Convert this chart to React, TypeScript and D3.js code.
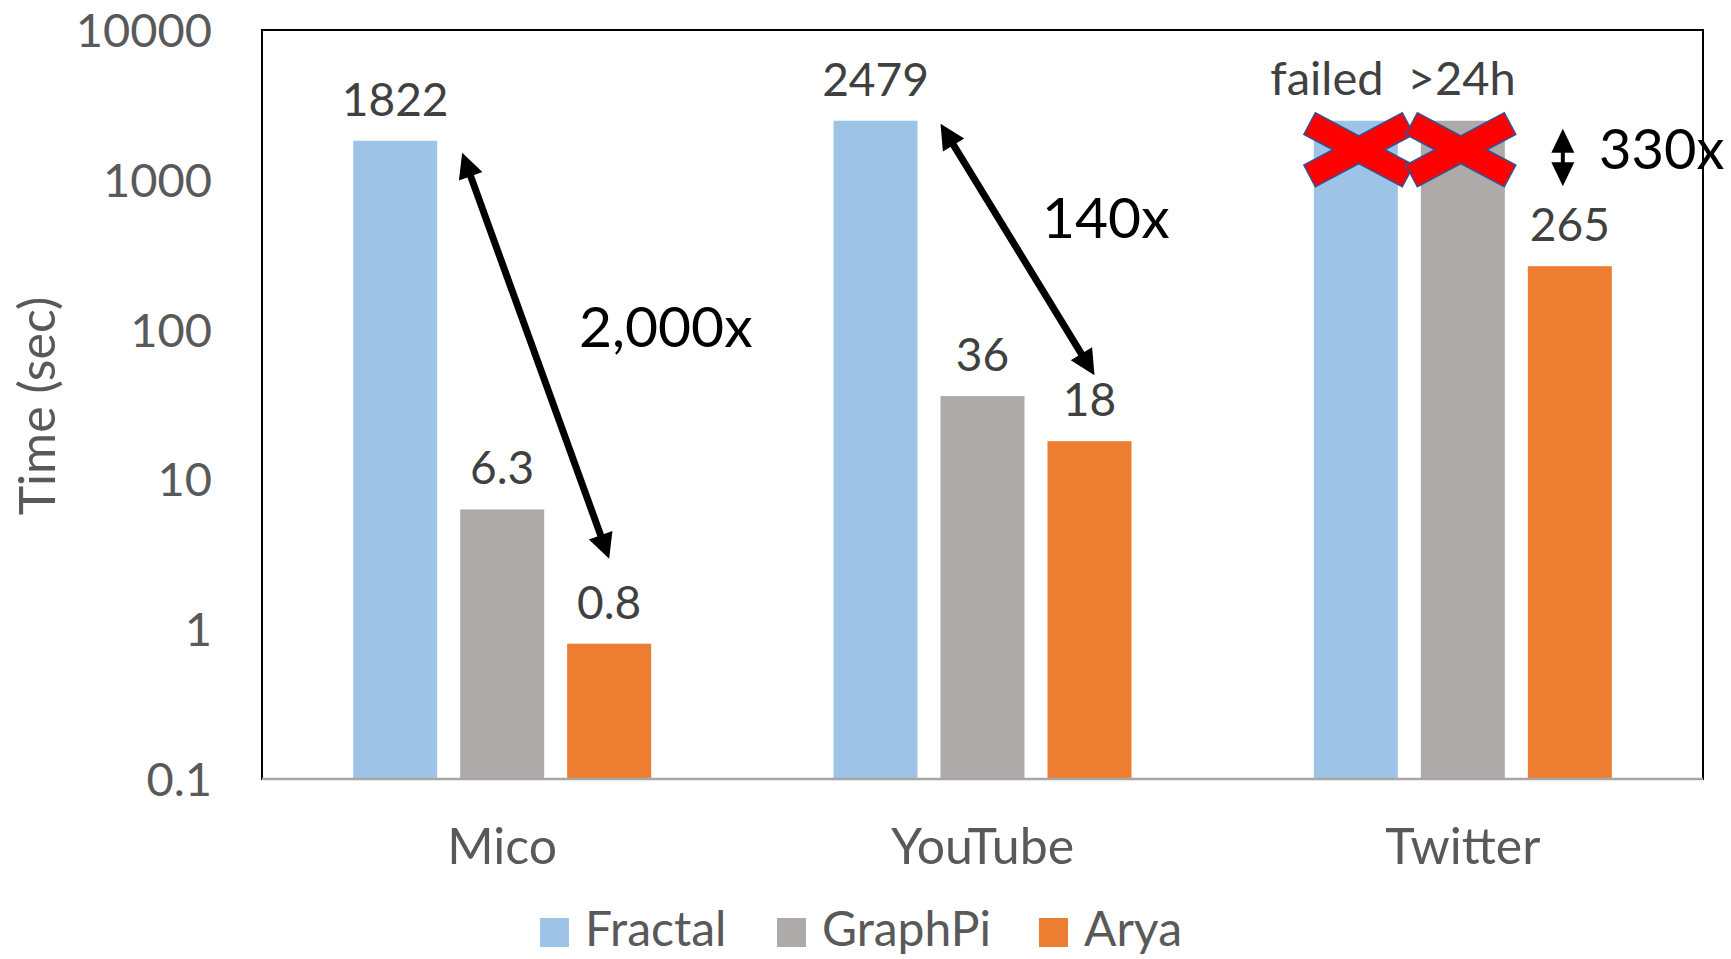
import React from "react";
import * as d3 from "d3";

const categories = ["Mico", "YouTube", "Twitter"];
const seriesNames = ["Fractal", "GraphPi", "Arya"];
const seriesColors = ["#9dc3e6", "#aeaaaa", "#ed7d31"];
const fractalValues = [1822, 2479, 2479];
const graphPiValues = [6.3, 36, 2479];
const aryaValues = [0.8, 18, 265];
const fractalLabels = ["1822", "2479", ""];
const graphPiLabels = ["6.3", "36", ""];
const aryaLabels = ["0.8", "18", "265"];
const fractalFailed = [false, false, true];
const graphPiFailed = [false, false, true];
const yTicks = [0.1, 1, 10, 100, 1000, 10000];
const yTickLabels = ["0.1", "1", "10", "100", "1000", "10000"];

const W = 1731;
const H = 959;
const FONT = "Lato, 'Open Sans', sans-serif";

function arrow(x1: number, y1: number, x2: number, y2: number, headLen: number, headW: number, lw: number, doubleHead = true) {
  const dx = x2 - x1, dy = y2 - y1;
  const len = Math.hypot(dx, dy);
  const ux = dx / len, uy = dy / len;
  const px = -uy, py = ux;
  const tri = (tx: number, ty: number, dirx: number, diry: number) => {
    const bx = tx - dirx * headLen, by = ty - diry * headLen;
    return `M${tx},${ty} L${bx + px * headW / 2},${by + py * headW / 2} L${bx - px * headW / 2},${by - py * headW / 2} Z`;
  };
  const sx = doubleHead ? x1 + ux * (headLen - 2) : x1;
  const sy = doubleHead ? y1 + uy * (headLen - 2) : y1;
  const ex = x2 - ux * (headLen - 2), ey = y2 - uy * (headLen - 2);
  return (
    <g>
      <line x1={sx} y1={sy} x2={ex} y2={ey} stroke="#000" strokeWidth={lw} />
      <path d={tri(x2, y2, ux, uy)} fill="#000" />
      {doubleHead && <path d={tri(x1, y1, -ux, -uy)} fill="#000" />}
    </g>
  );
}

function redX(cx: number, cy: number, key: string) {
  const L = 110, t = 23, ang = 28;
  const rects = [ang, -ang];
  return (
    <g key={key}>
      {rects.map((a, i) => (
        <rect key={"s" + i} x={cx - L / 2} y={cy - t / 2} width={L} height={t}
          transform={`rotate(${a},${cx},${cy})`} fill="#ff0000" stroke="#2f5597" strokeWidth={3} />
      ))}
      {rects.map((a, i) => (
        <rect key={"f" + i} x={cx - L / 2} y={cy - t / 2} width={L} height={t}
          transform={`rotate(${a},${cx},${cy})`} fill="#ff0000" />
      ))}
    </g>
  );
}

export default function App() {
  const left = 262, right = 1703, top = 30, bottom = 779;
  const x0 = d3.scaleBand<string>().domain(categories).range([left, right]);
  const groupW = 298;
  const x1 = d3.scaleBand<string>().domain(seriesNames).range([0, groupW]).paddingInner(23 / 107);
  const y = d3.scaleLog().domain([0.1, 10000]).range([bottom, top]);
  const bw = x1.bandwidth();

  const values = [fractalValues, graphPiValues, aryaValues];
  const labels = [fractalLabels, graphPiLabels, aryaLabels];

  const barX = (ci: number, si: number) =>
    (x0(categories[ci]) as number) + (x0.bandwidth() - groupW) / 2 + (x1(seriesNames[si]) as number);

  const bars: any[] = [];
  const texts: any[] = [];
  const crosses: any[] = [];
  categories.forEach((c, ci) => {
    seriesNames.forEach((s, si) => {
      const v = values[si][ci];
      const bx = barX(ci, si);
      bars.push(
        <rect key={`b${ci}${si}`} x={bx} y={y(v)} width={bw} height={bottom - y(v)} fill={seriesColors[si]} />
      );
      if (labels[si][ci]) {
        texts.push(
          <text key={`t${ci}${si}`} x={bx + bw / 2} y={y(v) - 25} textAnchor="middle" fontSize={46} fill="#404040" fontFamily={FONT}>
            {labels[si][ci]}
          </text>
        );
      }
    });
  });

  categories.forEach((c, ci) => {
    const crossY = y(fractalValues[ci]) + 29;
    if (fractalFailed[ci]) crosses.push(redX(barX(ci, 0) + bw / 2 + 3, crossY, "xf" + ci));
    if (graphPiFailed[ci]) crosses.push(redX(barX(ci, 1) + bw / 2 - 2, crossY, "xg" + ci));
  });

  const a1 = arrow(barX(0, 0) + bw + 25, y(fractalValues[0]) + 12, barX(0, 2) + bw / 2, y(aryaValues[0]) - 85, 25, 25, 7);
  const a2 = arrow(barX(1, 0) + bw + 23, y(fractalValues[1]) + 3, barX(1, 2) + bw / 2 + 5, y(aryaValues[1]) - 66, 25, 25, 7);
  const a3 = arrow(barX(2, 2) + bw / 2 - 7, y(fractalValues[2]) + 8, barX(2, 2) + bw / 2 - 7, y(aryaValues[2]) - 80, 24, 23, 4);

  const legendX = [540, 777, 1039];

  return (
    <svg width={W} height={H} style={{ position: "absolute", left: 0, top: 0, background: "#fff" }}>
      <rect x={0} y={0} width={W} height={H} fill="#fff" />
      <rect x={left} y={top} width={right - left} height={bottom - top} fill="none" stroke="#000" strokeWidth={2} />
      {bars}
      <line x1={left} x2={right} y1={bottom} y2={bottom} stroke="#a6a6a6" strokeWidth={2.5} />
      {yTicks.map((t, i) => (
        <text key={"yt" + i} x={212} y={y(t)} dy="0.36em" textAnchor="end" fontSize={47} fill="#595959" fontFamily={FONT}>
          {yTickLabels[i]}
        </text>
      ))}
      <text transform={`translate(55,406) rotate(-90)`} textAnchor="middle" fontSize={50} fill="#595959" fontFamily={FONT}>
        Time (sec)
      </text>
      {categories.map((c) => (
        <text key={c} x={(x0(c) as number) + x0.bandwidth() / 2} y={864} textAnchor="middle" fontSize={50} fill="#595959" fontFamily={FONT}>
          {c}
        </text>
      ))}
      {texts}
      {crosses}
      <text x={1393} y={95} textAnchor="middle" fontSize={47} fill="#404040" fontFamily={FONT} style={{ whiteSpace: "pre" }}>
        {"failed  >24h"}
      </text>
      {a1}
      {a2}
      {a3}
      <text x={579} y={347} fontSize={57} fill="#000" fontFamily={FONT}>2,000x</text>
      <text x={1042} y={238} fontSize={57} fill="#000" fontFamily={FONT}>140x</text>
      <text x={1599} y={169} fontSize={56} fill="#000" fontFamily={FONT}>330x</text>
      {seriesNames.map((s, i) => (
        <g key={"lg" + i}>
          <rect x={legendX[i]} y={918} width={29} height={29} fill={seriesColors[i]} />
          <text x={legendX[i] + 45} y={946} fontSize={48} fill="#595959" fontFamily={FONT}>{s}</text>
        </g>
      ))}
    </svg>
  );
}
